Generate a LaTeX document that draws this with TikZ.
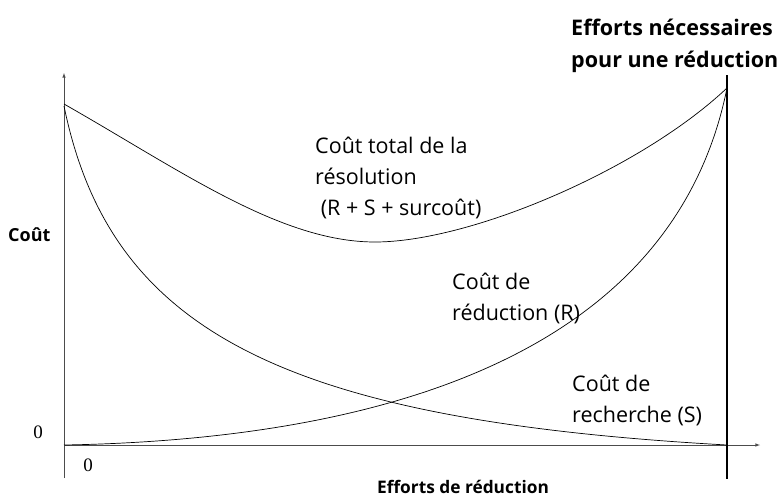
\documentclass[tikz,border=0pt]{standalone}
\usepackage{fontspec}
\setmainfont{Open Sans}
\newfontfamily\zerofont{Liberation Serif}
\begin{document}
\begin{tikzpicture}[x=1pt,y=-1pt,
  lbl/.style={font=\fontsize{21.5}{31}\selectfont, align=left, inner sep=0pt, anchor=base west},
  blbl/.style={font=\fontsize{21.5}{32}\selectfont\bfseries, align=left, inner sep=0pt, anchor=base west},
  zlbl/.style={font=\zerofont\fontsize{19}{22}\selectfont, inner sep=0pt},
  axis/.style={draw=black!70, line width=0.6pt},
  curve/.style={draw=black, line width=0.7pt}]
\useasboundingbox (0,0) rectangle (783,498);
\coordinate (O) at (64,445);
\coordinate (Ybot) at (64,478);
\coordinate (Ytop) at (64,73);
\coordinate (Xend) at (760,445);
\coordinate (Vtop) at (727,75);
\coordinate (Vbot) at (727,479);
\coordinate (Tl) at (64,104);
\coordinate (Tmin) at (375,242);
\coordinate (Tr) at (727,88);
\coordinate (Sl) at (64,106);
\coordinate (Sr) at (727,445);
\draw[axis,-latex] (Ybot) -- (Ytop);
\draw[axis,-latex] (O) -- (Xend);
\draw[line width=1.6pt] (Vtop) -- (Vbot);
\draw[curve] (Tl) .. controls (180,170) and (280,242) .. (Tmin)
                  .. controls (470,242) and (640,170) .. (Tr);
\draw[curve] (Sl) .. controls (110,330) and (280,420) .. (Sr);
\draw[curve] (O) .. controls (350,440) and (670,370) .. (Tr);
\node[zlbl] (z1) at (38,432) {0};
\node[zlbl] (z2) at (88,465) {0};
\node[blbl, font=\fontsize{18}{22}\selectfont\bfseries] (cout) at (8,241) {Coût};
\node[blbl, anchor=base, font=\fontsize{17.3}{22}\selectfont\bfseries] (eff) at (463,493) {Efforts de réduction};
\node[blbl] (nec) at (571,67) {Efforts nécessaires\\pour une réduction};
\node[lbl] (tot) at (315,215) {Coût total de la\\résolution\\\ (R + S + surcoût)};
\node[lbl] (red) at (452,320) {Coût de\\réduction (R)};
\node[lbl] (rech) at (572,422) {Coût de\\recherche (S)};
\end{tikzpicture}
\end{document}
